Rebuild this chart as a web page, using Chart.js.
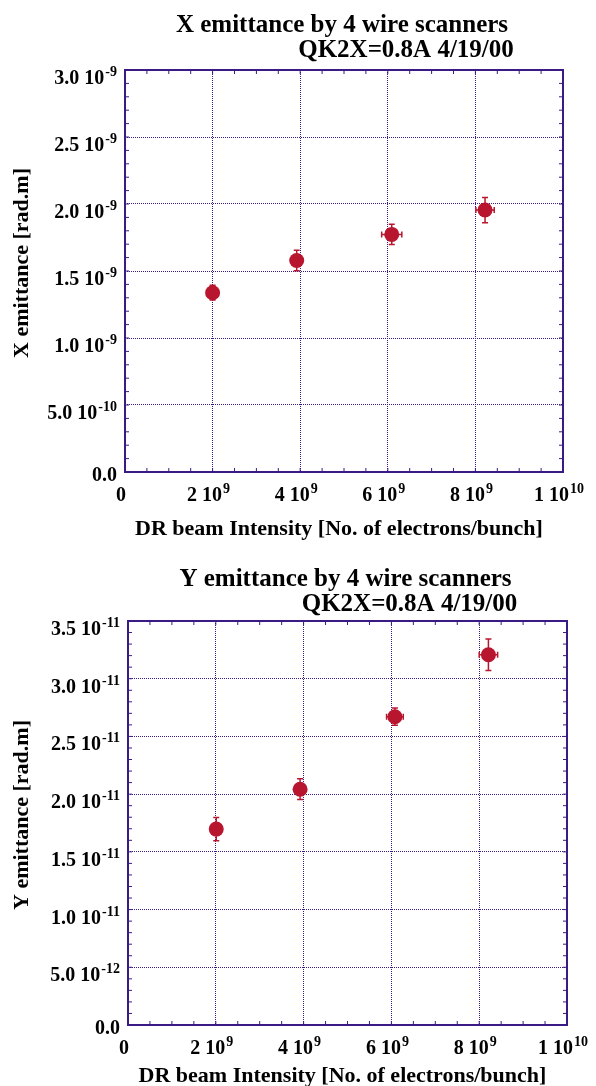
<!DOCTYPE html>
<html>
<head>
<meta charset="utf-8">
<script src="https://cdn.jsdelivr.net/npm/chart.js@4"></script>
<style>
  html, body { margin: 0; padding: 0; background: #fff; }
  canvas { display: block; }
</style>
</head>
<body>
<canvas id="xChart" width="596" height="543"></canvas>
<canvas id="yChart" width="596" height="543"></canvas>
<script>
// beam intensity [electrons/bunch] and emittance [rad.m]
const intensityX = [2.00e9, 3.92e9, 6.09e9, 8.22e9];
const intensityXErr = [0, 0, 0.23e9, 0.21e9];
const emitX = [1.338e-9, 1.578e-9, 1.773e-9, 1.955e-9];
const emitXErr = [0.055e-9, 0.077e-9, 0.075e-9, 0.094e-9];

const intensityY = [2.01e9, 3.92e9, 6.08e9, 8.21e9];
const intensityYErr = [0, 0, 0.19e9, 0.21e9];
const emitY = [1.697e-11, 2.043e-11, 2.671e-11, 3.208e-11];
const emitYErr = [0.10e-11, 0.09e-11, 0.075e-11, 0.136e-11];

const intensityTicks = [0, 2e9, 4e9, 6e9, 8e9, 1e10];
const intensityLabels = ['0', '2 10^9', '4 10^9', '6 10^9', '8 10^9', '1 10^10'];
const emitXTicks = [0, 0.5e-9, 1.0e-9, 1.5e-9, 2.0e-9, 2.5e-9, 3.0e-9];
const emitXLabels = ['0.0', '5.0 10^-10', '1.0 10^-9', '1.5 10^-9', '2.0 10^-9', '2.5 10^-9', '3.0 10^-9'];
const emitYTicks = [0, 0.5e-11, 1.0e-11, 1.5e-11, 2.0e-11, 2.5e-11, 3.0e-11, 3.5e-11];
const emitYLabels = ['0.0', '5.0 10^-12', '1.0 10^-11', '1.5 10^-11', '2.0 10^-11', '2.5 10^-11', '3.0 10^-11', '3.5 10^-11'];

const RED = '#b8162e';
const INK = '#3a1a84';
const FONT = '"Liberation Serif", "Times New Roman", serif';

function drawPowerLabel(ctx, text, x, y, align) {
  const parts = text.split('^');
  ctx.font = 'bold 20px ' + FONT;
  const mainW = ctx.measureText(parts[0]).width;
  let expW = 0;
  if (parts[1]) {
    ctx.font = 'bold 14px ' + FONT;
    expW = ctx.measureText(parts[1]).width + 1;
  }
  const total = mainW + expW;
  const x0 = align === 'right' ? x - total : x - total / 2;
  ctx.textAlign = 'left';
  ctx.textBaseline = 'alphabetic';
  ctx.fillStyle = '#000';
  ctx.font = 'bold 20px ' + FONT;
  ctx.fillText(parts[0], x0, y);
  if (parts[1]) {
    ctx.font = 'bold 14px ' + FONT;
    ctx.fillText(parts[1], x0 + mainW + 1, y - 8);
  }
}

function buildChart(id, cfg) {
  const decor = {
    id: 'decor',
    beforeDatasetsDraw(chart) {
      // error bars
      const ctx = chart.ctx, xs = chart.scales.x, ys = chart.scales.y;
      ctx.save();
      ctx.strokeStyle = RED;
      ctx.lineWidth = 1.5;
      cfg.xs.forEach((xv, i) => {
        const px = xs.getPixelForValue(xv);
        const py = ys.getPixelForValue(cfg.ys[i]);
        const top = ys.getPixelForValue(cfg.ys[i] + cfg.yErr[i]);
        const bot = ys.getPixelForValue(cfg.ys[i] - cfg.yErr[i]);
        ctx.beginPath();
        ctx.moveTo(px, top); ctx.lineTo(px, bot);
        ctx.moveTo(px - 3, top); ctx.lineTo(px + 3, top);
        ctx.moveTo(px - 3, bot); ctx.lineTo(px + 3, bot);
        if (cfg.xErr[i] > 0) {
          const l = xs.getPixelForValue(xv - cfg.xErr[i]);
          const r = xs.getPixelForValue(xv + cfg.xErr[i]);
          ctx.moveTo(l, py); ctx.lineTo(r, py);
          ctx.moveTo(l, py - 3); ctx.lineTo(l, py + 3);
          ctx.moveTo(r, py - 3); ctx.lineTo(r, py + 3);
        }
        ctx.stroke();
      });
      ctx.restore();
    },
    afterDraw(chart) {
      const ctx = chart.ctx, a = chart.chartArea;
      const xs = chart.scales.x, ys = chart.scales.y;
      ctx.save();
      // frame
      ctx.strokeStyle = INK;
      ctx.lineWidth = 2;
      ctx.strokeRect(a.left, a.top, a.right - a.left, a.bottom - a.top);
      // minor ticks
      ctx.lineWidth = 1;
      ctx.beginPath();
      for (let i = 0; i <= 20; i++) {
        const px = xs.getPixelForValue(i * 0.5e9);
        ctx.moveTo(px, a.bottom); ctx.lineTo(px, a.bottom - 4);
        ctx.moveTo(px, a.top); ctx.lineTo(px, a.top + 4);
      }
      const nMinor = Math.round(cfg.yMax / cfg.yMinor);
      for (let i = 0; i <= nMinor; i++) {
        const py = ys.getPixelForValue(i * cfg.yMinor);
        ctx.moveTo(a.left, py); ctx.lineTo(a.left + 4, py);
        ctx.moveTo(a.right, py); ctx.lineTo(a.right - 4, py);
      }
      ctx.stroke();
      // tick labels
      intensityTicks.forEach((v, i) => {
        drawPowerLabel(ctx, intensityLabels[i], xs.getPixelForValue(v) - 4, a.bottom + 29, 'center');
      });
      cfg.yTicks.forEach((v, i) => {
        const lab = cfg.yLabels[i];
        const off = lab.indexOf('^') >= 0 ? 14 : 9;
        drawPowerLabel(ctx, lab, a.left - 8, ys.getPixelForValue(v) + off, 'right');
      });
      // titles
      const cx = (a.left + a.right) / 2;
      ctx.fillStyle = '#000';
      ctx.textAlign = 'center';
      ctx.textBaseline = 'alphabetic';
      ctx.font = 'bold 25px ' + FONT;
      ctx.fillText(cfg.title[0], cx - 2, cfg.titleY[0]);
      ctx.fillText(cfg.title[1], cx + 62, cfg.titleY[1]);
      ctx.font = 'bold 22px ' + FONT;
      ctx.fillText('DR beam Intensity [No. of electrons/bunch]', cx - 5, cfg.xTitleY);
      ctx.translate(22, (a.top + a.bottom) / 2 - 8);
      ctx.rotate(-Math.PI / 2);
      ctx.textBaseline = 'middle';
      ctx.fillText(cfg.yTitle, 0, 0);
      ctx.restore();
    }
  };

  return new Chart(document.getElementById(id), {
    type: 'scatter',
    data: {
      datasets: [{
        data: cfg.xs.map((v, i) => ({ x: v, y: cfg.ys[i] })),
        pointRadius: 7.5,
        pointHoverRadius: 7.5,
        pointBackgroundColor: RED,
        pointBorderWidth: 0
      }]
    },
    options: {
      responsive: false,
      animation: false,
      devicePixelRatio: 1,
      layout: { padding: cfg.padding },
      plugins: { legend: { display: false }, tooltip: { enabled: false } },
      scales: {
        x: {
          type: 'linear', min: 0, max: 1e10,
          afterBuildTicks: s => { s.ticks = intensityTicks.map(v => ({ value: v })); },
          ticks: { display: false },
          grid: { color: INK, lineWidth: 1, drawTicks: false },
          border: { display: false, dash: [1, 1] }
        },
        y: {
          type: 'linear', min: 0, max: cfg.yMax,
          afterBuildTicks: s => { s.ticks = cfg.yTicks.map(v => ({ value: v })); },
          ticks: { display: false },
          grid: { color: INK, lineWidth: 1, drawTicks: false },
          border: { display: false, dash: [1, 1] }
        }
      }
    },
    plugins: [decor]
  });
}

buildChart('xChart', {
  xs: intensityX, xErr: intensityXErr, ys: emitX, yErr: emitXErr,
  yTicks: emitXTicks, yLabels: emitXLabels, yMax: 3.0e-9, yMinor: 0.1e-9,
  title: ['X emittance by 4 wire scanners', 'QK2X=0.8A 4/19/00'],
  titleY: [32, 57], xTitleY: 535, yTitle: 'X emittance [rad.m]',
  padding: { left: 125, right: 33, top: 70, bottom: 71 }
});

buildChart('yChart', {
  xs: intensityY, xErr: intensityYErr, ys: emitY, yErr: emitYErr,
  yTicks: emitYTicks, yLabels: emitYLabels, yMax: 3.5e-11, yMinor: 0.1e-11,
  title: ['Y emittance by 4 wire scanners', 'QK2X=0.8A 4/19/00'],
  titleY: [43, 68], xTitleY: 539, yTitle: 'Y emittance [rad.m]',
  padding: { left: 128, right: 29, top: 78, bottom: 61 }
});
</script>
</body>
</html>
